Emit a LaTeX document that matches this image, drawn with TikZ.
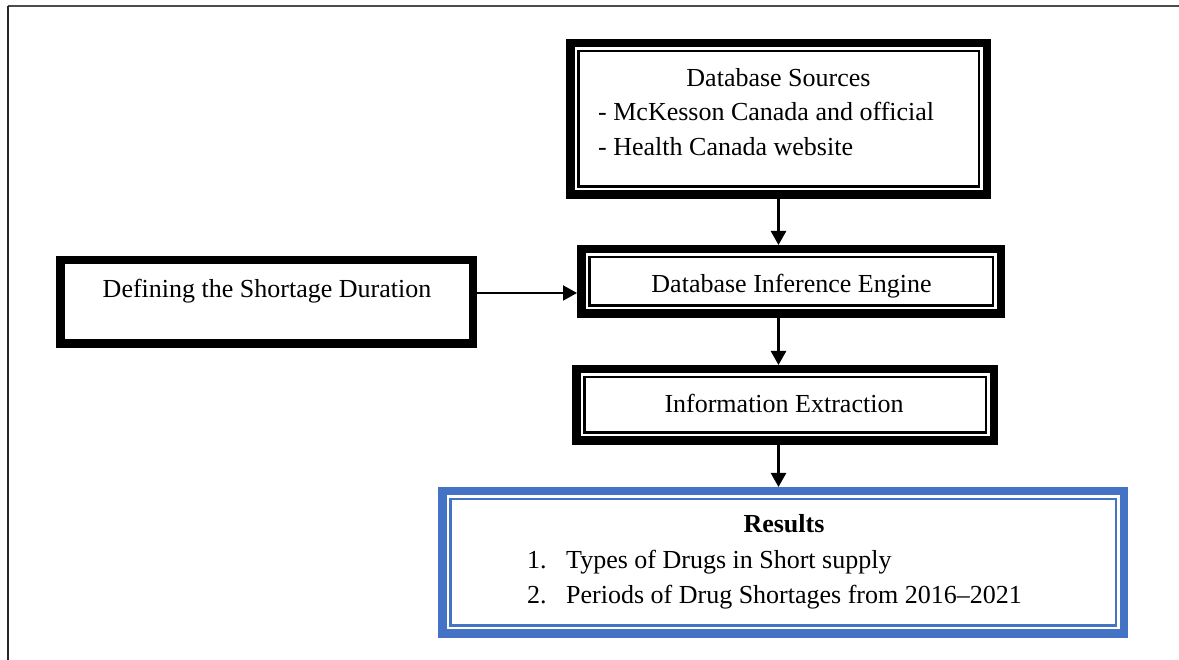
\documentclass[tikz,border=0pt]{standalone}
\usepackage{fontspec}
\setmainfont{Liberation Serif}
\usetikzlibrary{arrows.meta}
\definecolor{resblue}{HTML}{4472C4}
\begin{document}
\begin{tikzpicture}[x=1pt,y=1pt,
  txt/.style={font=\fontsize{26}{31}\selectfont, inner sep=0pt, anchor=base},
  frame/.style={draw=black, line width=8.5pt, outer sep=4.25pt, inner sep=0pt},
  innerline/.style={line width=2.5pt},
  flow/.style={line width=2.5pt, -{Triangle[length=14pt,width=15pt]}}
]
\useasboundingbox (0,0) rectangle (1179,660);

% page rule along the top and left
\draw[line width=2pt, black!70] (8,653.5) -- (1179,653.5);
\draw[line width=2pt, black!85] (8,653.5) -- (8,0);

% boxes
\node[frame, minimum width=416.5pt, minimum height=151.5pt] (src) at (778.5,541) {};
\node[frame, minimum width=419.5pt, minimum height=64.5pt] (eng) at (791,378.5) {};
\node[frame, minimum width=417.5pt, minimum height=71.5pt] (ext) at (785,255) {};
\node[frame, draw=resblue, minimum width=681.5pt, minimum height=142.5pt] (res) at (783,97.5) {};
\node[frame, minimum width=412.5pt, minimum height=83.5pt] (def) at (266.5,358) {};

% inner rules of the double frames
\foreach \n in {src,eng,ext}
  \draw[innerline] ([shift={(12.25,-12.25)}]\n.north west) rectangle ([shift={(-12.25,12.25)}]\n.south east);
\draw[innerline, resblue] ([shift={(12.25,-12.25)}]res.north west) rectangle ([shift={(-12.25,12.25)}]res.south east);

% texts
\node[txt] (srcT) at (778.5,573) {Database Sources};
\node[txt, anchor=base west] (srcA) at (598,539) {- McKesson Canada and official};
\node[txt, anchor=base west] (srcB) at (598,504) {- Health Canada website};
\node[txt] (engT) at (791.5,367) {Database Inference Engine};
\node[txt] (extT) at (784,247) {Information Extraction};
\node[txt] (defT) at (267,362) {Defining the Shortage Duration};
\node[txt, font=\fontsize{26}{31}\selectfont\bfseries] (resT) at (784,127) {Results};
\node[txt, anchor=base west] (resN1) at (527,91) {1.};
\node[txt, anchor=base west] (resA) at (566,91) {Types of Drugs in Short supply};
\node[txt, anchor=base west] (resN2) at (527,56) {2.};
\node[txt, anchor=base west] (resB) at (566,56) {Periods of Drug Shortages from 2016--2021};

% connectors
\draw[flow] (src.south) -- (src.south |- eng.north);
\draw[flow] (eng.south -| src.south) -- (ext.north -| src.south);
\draw[flow] (ext.south -| src.south) -- (res.north -| src.south);
\coordinate (defOut) at ([yshift=9pt]def.east);
\draw[flow, line width=2pt] (defOut) -- (eng.west |- defOut);
\end{tikzpicture}
\end{document}
